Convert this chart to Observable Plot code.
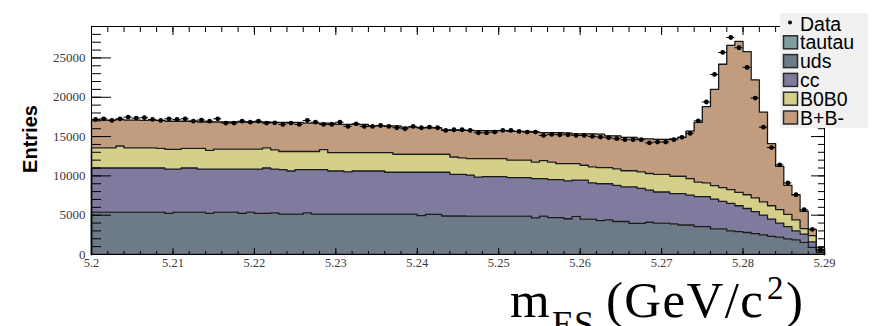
<!DOCTYPE html>
<html><head><meta charset="utf-8">
<script src="https://cdn.jsdelivr.net/npm/d3@7"></script>
<script src="https://cdn.jsdelivr.net/npm/@observablehq/plot@0.6"></script>
<style>body{margin:0;background:#fff;} svg{display:block;}</style>
</head><body><div id="chart"></div>
<script>
// histogram binning
const xMin = 5.2, xMax = 5.29, nBins = 90;
const seriesNames = ["tautau", "uds", "cc", "B0B0", "B+B-"];
const seriesColors = ["#7f9ea0", "#6c7b87", "#7f7b9e", "#d4d08a", "#c19c7f"];

const tautau = [50,50,50,50,50,50,50,50,50,50, 50,50,50,50,50,50,50,50,50,50,
  50,50,50,50,50,50,50,50,50,50, 50,50,50,50,50,50,50,50,50,50,
  50,50,50,50,50,50,50,50,50,50, 50,50,50,50,50,50,50,50,50,50,
  50,50,50,50,50,50,50,50,50,50, 50,50,50,50,50,50,50,50,50,50,
  50,50,50,50,50,50,50,50,50,50];
const uds = [5350,5350,5350,5350,5350,5350,5350,5350,5350,5170,
  5350,5350,5350,5350,5170,5350,5350,5350,5170,5350,
  5170,5170,5250,5080,5080,5080,5250,5080,5080,5080,
  5080,5080,5080,5080,5080,5080,5080,5080,5080,5080,
  4900,5050,5050,4850,4850,4850,4830,4830,4830,4830,
  4830,4830,4830,4830,4620,4830,4650,4650,4500,4800,
  4450,4450,4250,4350,4150,4150,3900,3900,4050,3950,
  3950,3850,3700,3700,3500,3500,3200,3200,2950,2850,
  2750,2600,2450,2250,2150,1950,1800,1500,850,200];
const cc = [5600,5600,5600,5600,5600,5600,5600,5600,5600,5630,
  5450,5600,5600,5450,5630,5450,5450,5450,5630,5450,
  5630,5780,5550,5670,5490,5670,5500,5670,5670,5490,
  5490,5370,5490,5490,5490,5490,5330,5330,5330,5330,
  5510,5360,5360,5560,5300,5300,5220,4970,5020,5020,
  5020,4900,4900,4900,4980,4770,4830,4830,4810,4600,
  4950,4600,4700,4600,4600,4400,4650,4450,4100,3950,
  3950,3850,4000,3800,3800,3800,3800,3500,3500,3300,
  3050,2800,2500,2200,1800,1550,1150,1050,700,200];
const b0b0 = [2550,2550,2550,2800,2550,2550,2550,2550,2500,2520,
  2520,2500,2500,2650,2400,2550,2550,2550,2550,2550,
  2550,2550,2450,2300,2480,2300,2300,2300,2550,2330,
  2330,2450,2330,2330,2330,2330,2490,2290,2290,2290,
  2290,2290,2290,2290,2200,2100,2100,2350,2300,2300,
  2300,2220,2220,2220,2100,2300,2220,2020,2190,2100,
  1900,2050,2050,2050,2100,2050,2050,2100,2100,2250,
  2250,2200,2200,2100,1850,1750,1700,1750,1750,1700,
  1750,1750,1700,1700,1700,1550,1400,700,800,150];
const bpbm = [3600,3550,3550,3350,3550,3550,3500,3550,3550,3580,
  3580,3450,3450,3350,3600,3450,3450,3450,3450,3450,
  3450,3300,3500,3700,3700,3700,3600,3600,3350,3750,
  3600,3600,3600,3600,3400,3400,3400,3600,3450,3450,
  3350,3350,3350,3100,3400,3500,3600,3550,3550,3550,
  3550,3650,3650,3650,3850,3550,3750,3950,3900,3800,
  4000,4200,4250,4050,4200,4250,4250,4200,4400,4450,
  4450,4750,4950,6050,7600,9700,12250,15700,18350,19200,
  18200,15000,11400,7900,5500,3700,3200,2200,800,300];
const dataCounts = [17180,17260,17050,17260,17470,17350,17400,17180,17050,17260,
  17180,17260,16960,17100,16960,17260,16710,16710,16960,16830,
  16960,16710,16750,16540,16710,16540,17050,16830,16540,16540,
  16830,16290,16620,16290,16290,16410,16290,16120,15990,16290,
  16120,16200,16120,15780,15870,15870,15780,15480,15480,15570,
  15780,15780,15650,15570,15570,15140,15270,15230,15230,15140,
  15140,15020,14940,14850,14730,14600,14600,14600,14200,14300,
  14300,14600,14900,15400,17000,19400,22900,25700,27600,26300,
  23800,19900,16200,13600,11400,9100,7600,5700,3200,600];

const xTicks = [5.2,5.21,5.22,5.23,5.24,5.25,5.26,5.27,5.28,5.29];
const xTickLabels = ["5.2","5.21","5.22","5.23","5.24","5.25","5.26","5.27","5.28","5.29"];
const yTicks = [0,5000,10000,15000,20000,25000];
const yTickLabels = ["0","5000","10000","15000","20000","25000"];
const yMax = 29000;

const binW = (xMax - xMin) / nBins;
const edges = d3.range(nBins + 1).map(i => xMin + i * binW);
const xMinor = d3.range(0, 46).map(i => xMin + i * 0.002).filter(v => v <= xMax + 1e-9);
const yMinor = d3.range(0, 29).map(i => i * 1000);

const layers = [tautau, uds, cc, b0b0, bpbm];
let base = new Array(nBins).fill(0);
const areaMarks = [], lineMarks = [];
layers.forEach((vals, k) => {
  const lo = base.slice();
  const hi = base.map((b, i) => b + vals[i]);
  const aRows = edges.slice(0, nBins).map((x, i) => ({x, y1: lo[i], y2: hi[i]}));
  aRows.push({x: xMax, y1: lo[nBins - 1], y2: hi[nBins - 1]});
  const lRows = [{x: xMin, y: 0}, ...edges.slice(0, nBins).map((x, i) => ({x, y: hi[i]})),
    {x: xMax, y: hi[nBins - 1]}, {x: xMax, y: 0}];
  areaMarks.push(Plot.areaY(aRows, {x: "x", y1: "y1", y2: "y2", curve: "step-after", fill: seriesColors[k]}));
  lineMarks.push(Plot.line(lRows, {x: "x", y: "y", curve: "step-after", stroke: "#1a1a1a", strokeWidth: 1.3}));
  base = hi;
});

const dataRows = dataCounts.map((v, i) => ({xa: edges[i], xb: edges[i + 1], xc: edges[i] + binW / 2, v}));

const chart = Plot.plot({
  width: 883, height: 326,
  marginLeft: 91, marginRight: 59, marginTop: 26, marginBottom: 72,
  x: {domain: [xMin, xMax]},
  y: {domain: [0, yMax]},
  style: {background: "#fff", color: "#000"},
  marks: [
    ...areaMarks,
    ...lineMarks,
    Plot.ruleY(dataRows, {x1: "xa", x2: "xb", y: "v", stroke: "#000", strokeWidth: 1}),
    Plot.dot(dataRows, {x: "xc", y: "v", r: 2.4, fill: "#000"}),
    Plot.frame({stroke: "#000", strokeWidth: 1}),
    Plot.axisY(yTicks, {anchor: "left", tickSize: -20, tickPadding: 26, tickFormat: (d, i) => yTickLabels[i], label: null, fontFamily: "Liberation Serif", fontSize: 13}),
    Plot.axisY(yMinor, {anchor: "left", tickSize: -10, tickFormat: () => "", label: null}),
    Plot.axisY(yTicks, {anchor: "right", tickSize: -14, tickFormat: () => "", label: null}),
    Plot.axisY(yMinor, {anchor: "right", tickSize: -7, tickFormat: () => "", label: null}),
    Plot.axisX(xTicks, {anchor: "bottom", tickSize: -6, tickPadding: 10, tickFormat: (d, i) => xTickLabels[i], label: null, fontFamily: "Liberation Serif", fontSize: 12.5}),
    Plot.axisX(xMinor, {anchor: "bottom", tickSize: -3, tickFormat: () => "", label: null}),
    Plot.axisX(xTicks, {anchor: "top", tickSize: -8, tickFormat: () => "", label: null}),
    Plot.axisX(xMinor, {anchor: "top", tickSize: -5, tickFormat: () => "", label: null})
  ]
});
document.getElementById("chart").appendChild(chart);

const svg = d3.select(chart);
svg.selectAll('g[aria-label$="tick label"] text').attr("fill", "#3a3a3a");

// y axis title
svg.append("text").attr("transform", "translate(37,139) rotate(-90)")
  .attr("text-anchor", "middle").attr("font-family", "Liberation Sans").attr("font-weight", "bold")
  .attr("font-size", 20).attr("fill", "#000").text("Entries");

// x axis title
const xt = svg.append("text").attr("text-anchor", "start")
  .attr("font-family", "Liberation Serif").attr("font-size", 51).attr("fill", "#000");
xt.append("tspan").attr("x", 510).attr("y", 316.5).text("m");
xt.append("tspan").attr("x", 552).attr("y", 336).attr("font-size", 36).text("ES");
xt.append("tspan").attr("x", 606).attr("y", 316.5).attr("textLength", 157).attr("lengthAdjust", "spacing").text("(GeV/c");
xt.append("tspan").attr("x", 767).attr("y", 299).attr("font-size", 33).text("2");
xt.append("tspan").attr("x", 786).attr("y", 316.5).text(")");

// legend
const lg = svg.append("g").attr("text-anchor", "start");
lg.append("rect").attr("x", 780).attr("y", 13).attr("width", 88).attr("height", 115).attr("fill", "#f1f1f1");
const rowY = i => 23.5 + i * 18.8;
const legendItems = ["Data", ...seriesNames];
legendItems.forEach((name, i) => {
  const y = rowY(i);
  if (i === 0) {
    lg.append("circle").attr("cx", 790).attr("cy", y - 1).attr("r", 2).attr("fill", "#000");
  } else {
    lg.append("rect").attr("x", 783.5).attr("y", y - 6.5).attr("width", 14).attr("height", 13)
      .attr("fill", seriesColors[i - 1]).attr("stroke", "#2a2a2a").attr("stroke-width", 1.5);
  }
  lg.append("text").attr("x", 800).attr("y", y).attr("dy", "0.36em").attr("text-anchor", "start")
    .attr("font-family", "Liberation Sans").attr("font-size", 19.5).attr("fill", "#000").text(name);
});
</script>
</body></html>
